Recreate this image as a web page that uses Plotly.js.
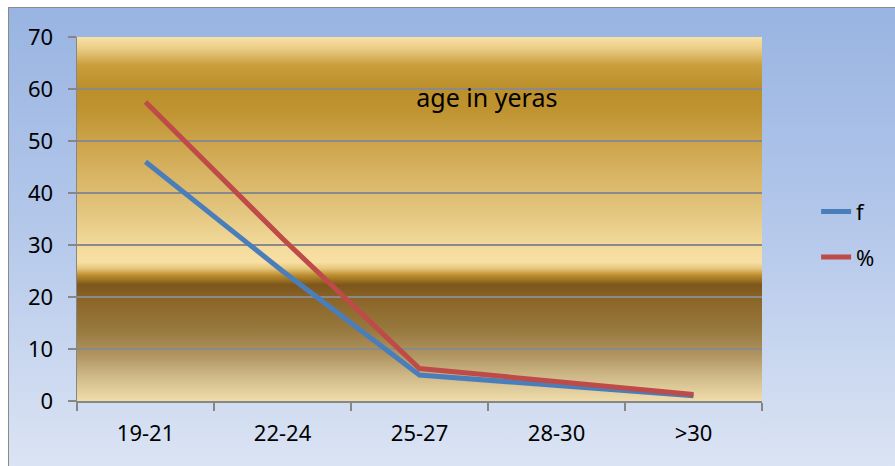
<!DOCTYPE html>
<html>
<head>
<meta charset="utf-8">
<script src="https://cdn.plot.ly/plotly-3.0.1.min.js"></script>
<style>
html,body{margin:0;padding:0;background:#ffffff;overflow:hidden;}
#bg{position:absolute;left:8px;top:7px;width:900px;height:470px;border-left:1.5px solid #8a8a8a;border-top:1.5px solid #8a8a8a;background:linear-gradient(to bottom,#99b4e2 0%,#b3c7ea 45%,#dde5f4 100%);}
#chart{position:absolute;left:0;top:0;width:895px;height:466px;}
</style>
</head>
<body>
<div id="bg"></div>
<div id="chart"></div>
<script>
// Data
const categories = ["19-21", "22-24", "25-27", "28-30", ">30"];
const fValues = [46, 25, 5, 3, 1];
const pctValues = [57.5, 31.25, 6.25, 3.75, 1.25];
const seriesNames = ["f", "%"];
const yTickValues = [0, 10, 20, 30, 40, 50, 60, 70];
const chartTitle = "age in yeras";

// golden plot-area gradient (image background)
const stops = [
  [0.0, "#f9e2a6"], [0.036, "#e8c981"], [0.077, "#c99e3c"], [0.14, "#bb8f2a"],
  [0.2, "#bf932f"], [0.283, "#cca24a"], [0.379, "#d8b464"], [0.489, "#e4c781"],
  [0.571, "#f3da9b"], [0.618, "#f8e0a5"], [0.636, "#e6c67c"], [0.654, "#be8f2e"],
  [0.681, "#7c561a"], [0.723, "#8c6629"], [0.805, "#98793e"], [0.874, "#b09561"],
  [0.929, "#cdb786"], [1.0, "#f0dcab"]
];
const svg = '<svg xmlns="http://www.w3.org/2000/svg" width="100" height="364" viewBox="0 0 100 364" preserveAspectRatio="none">' +
  '<defs><linearGradient id="g" x1="0" y1="0" x2="0" y2="1">' +
  stops.map(s => '<stop offset="' + s[0] + '" stop-color="' + s[1] + '"/>').join('') +
  '</linearGradient></defs><rect x="0" y="0" width="100" height="364" fill="url(#g)"/></svg>';
const svgUri = "data:image/svg+xml;charset=utf-8," + encodeURIComponent(svg);

const font = "'Noto Sans', 'Open Sans', 'DejaVu Sans', sans-serif";

const traces = [
  {x: categories, y: fValues, name: seriesNames[0], type: "scatter", mode: "lines",
   line: {color: "#4a7ebb", width: 5}, legendgroup: "a"},
  {x: categories, y: pctValues, name: seriesNames[1], type: "scatter", mode: "lines",
   line: {color: "#be4b48", width: 5}, legendgroup: "b"}
];

const layout = {
  width: 895, height: 466,
  margin: {l: 77, r: 133, t: 37, b: 65, pad: 0},
  paper_bgcolor: "rgba(0,0,0,0)",
  plot_bgcolor: "rgba(0,0,0,0)",
  font: {family: font, size: 22, color: "#000000"},
  title: {text: chartTitle, font: {family: font, size: 25, color: "#000000"},
          x: 0.544, xref: "container", xanchor: "center",
          y: 0.79, yref: "container", yanchor: "middle"},
  images: [{source: svgUri, xref: "paper", yref: "paper", x: 0, y: 1,
            sizex: 1, sizey: 1, sizing: "stretch", xanchor: "left", yanchor: "top",
            layer: "below"}],
  xaxis: {type: "category", range: [-0.5, 4.5], showgrid: false, zeroline: false,
          showline: true, linecolor: "#868686", linewidth: 1.5,
          ticks: "outside", tickson: "boundaries", ticklen: 8, tickwidth: 1.5, tickcolor: "#868686",
          ticklabelstandoff: 12, tickfont: {size: 22}},
  yaxis: {range: [0, 70], tickvals: yTickValues, showgrid: true, gridcolor: "#8a8a8a", gridwidth: 1.5,
          zeroline: false, showline: true, linecolor: "#868686", linewidth: 1.5,
          ticks: "outside", ticklen: 8, tickwidth: 1.5, tickcolor: "#868686",
          ticklabelstandoff: 10, tickfont: {size: 22}},
  legend: {x: 1.079, y: 0.578, xanchor: "left", yanchor: "top",
           bgcolor: "rgba(0,0,0,0)", font: {size: 22},
           traceorder: "grouped", tracegroupgap: 14},
  showlegend: true
};

Plotly.newPlot("chart", traces, layout, {displayModeBar: false, staticPlot: true});
</script>
</body>
</html>
